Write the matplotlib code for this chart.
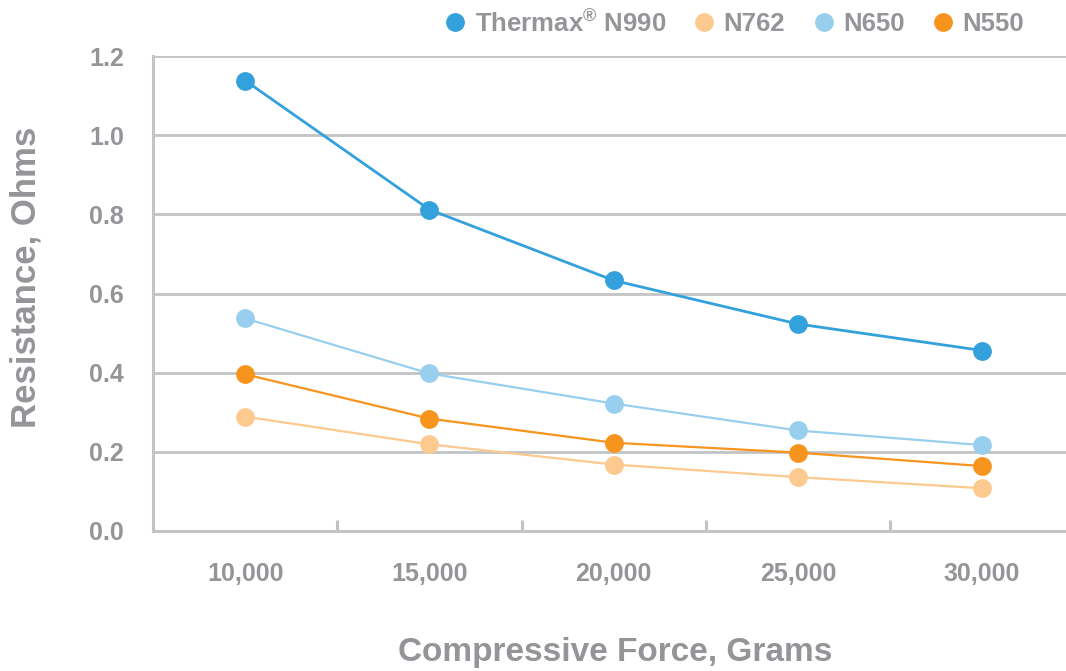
import numpy as np
import matplotlib.pyplot as plt

# data
forces = ["10,000", "15,000", "20,000", "25,000", "30,000"]
n990 = [1.138, 0.812, 0.633, 0.523, 0.456]
n762 = [0.289, 0.219, 0.168, 0.136, 0.108]
n650 = [0.537, 0.398, 0.322, 0.254, 0.217]
n550 = [0.396, 0.284, 0.223, 0.198, 0.164]
yticks = [0.0, 0.2, 0.4, 0.6, 0.8, 1.0, 1.2]

gray = '#939598'
grid_gray = '#c2c3c5'

plt.rcParams['font.family'] = ['Liberation Sans', 'DejaVu Sans']
plt.rcParams['font.weight'] = 'bold'
plt.rcParams['mathtext.fontset'] = 'custom'
plt.rcParams['mathtext.rm'] = 'Liberation Sans:bold'
plt.rcParams['mathtext.bf'] = 'Liberation Sans:bold'

fig = plt.figure(figsize=(10.66, 6.71), dpi=100)
ax = fig.add_axes([153/1066, (671-531)/671, 1 - 153/1066, (531-56)/671])

x = np.arange(len(forces))
series = [
    ("Thermax$^{\u00ae}$ N990", n990, '#33a1dc', 2.0, 5),
    ("N762", n762, '#fcc98e', 1.6, 2),
    ("N650", n650, '#99cfee', 1.6, 3),
    ("N550", n550, '#f7941d', 1.6, 4),
]
for name, vals, col, lw, z in series:
    ax.plot(x, vals, color=col, linewidth=lw, marker='o', markersize=12.5,
            label=name, zorder=z)

ax.set_xlim(-0.5, 4.455)
ax.set_ylim(0, 1.2)
ax.set_yticks(yticks)
ax.set_yticklabels([f"{v:.1f}" for v in yticks])
ax.set_xticks(x)
ax.set_xticklabels(forces)
ax.set_xticks(x[:-1] + 0.5, minor=True)

ax.grid(axis='y', color=grid_gray, linewidth=2.0, zorder=0)
ax.set_axisbelow(True)
for s in ['top', 'right']:
    ax.spines[s].set_visible(False)
for s in ['left', 'bottom']:
    ax.spines[s].set_color(grid_gray)
    ax.spines[s].set_linewidth(2.2)

ax.tick_params(axis='y', length=0, pad=21, labelsize=18, labelcolor=gray)
ax.tick_params(axis='x', which='major', length=0, pad=22, labelsize=18, labelcolor=gray)
ax.tick_params(axis='x', which='minor', direction='in', length=8, width=2.2, color=grid_gray)

ax.set_ylabel("Resistance, Ohms", fontsize=25, color=gray, fontweight='bold')
ax.yaxis.set_label_coords((26 - 153) / 913, 0.535)
ax.yaxis.label.set_va('center')
ax.set_xlabel("Compressive Force, Grams", fontsize=24, color=gray, fontweight='bold')
ax.xaxis.set_label_coords((615 - 153) / 913, (531 - 652) / 475)
ax.xaxis.label.set_va('center')

leg = fig.legend(loc='upper right', bbox_to_anchor=(1047/1066, 1.022), ncol=4, frameon=False,
                 fontsize=18.5, handlelength=0.6, handletextpad=0.45, columnspacing=1.2)
for t in leg.get_texts():
    t.set_color(gray)
for h in leg.get_lines():
    h.set_linestyle('none')

fig.savefig("out.png", dpi=100)
